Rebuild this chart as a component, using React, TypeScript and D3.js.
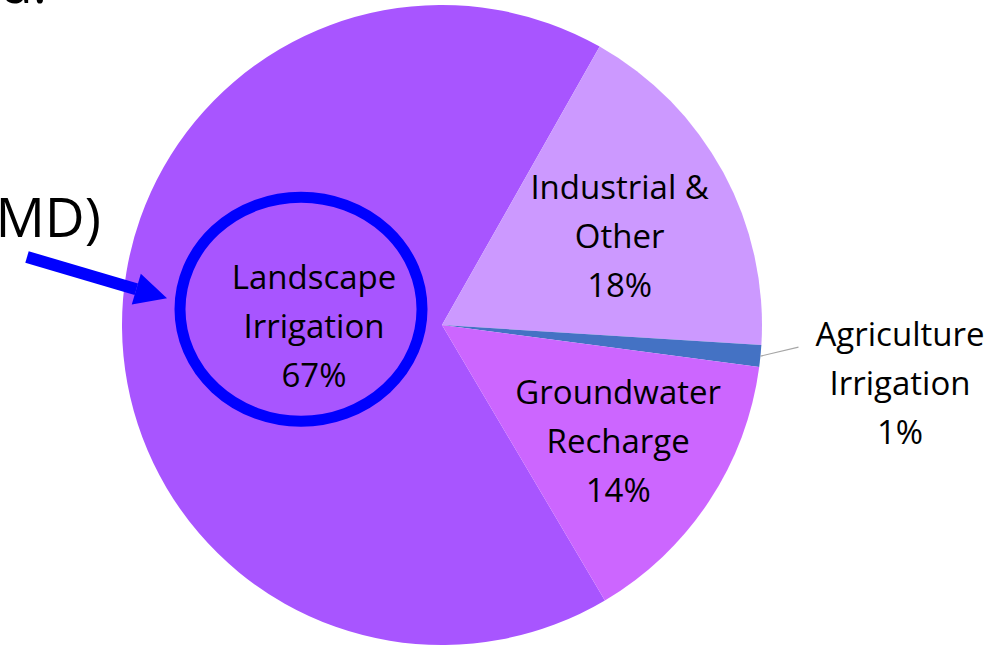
import { useEffect, useRef } from "react";
import * as d3 from "d3";

const categories = ["Landscape Irrigation", "Industrial & Other", "Agriculture Irrigation", "Groundwater Recharge"];
const labelLines = [["Landscape", "Irrigation"], ["Industrial &", "Other"], ["Agriculture", "Irrigation"], ["Groundwater", "Recharge"]];
const shares = [66.7, 17.8, 1.1, 14.4];
const colors = ["#A855FF", "#CC99FF", "#4472C4", "#CC66FF"];

const W = 997;
const H = 647;
const FONT = "'Open Sans', sans-serif";

export default function App() {
  const ref = useRef<SVGSVGElement>(null);

  useEffect(() => {
    document.body.style.margin = "0";
    if (!ref.current) return;
    const svg = d3.select(ref.current);
    svg.selectAll("*").remove();

    const cx = 442;
    const cy = 325;
    const r = 320;
    const start = (149.4 * Math.PI) / 180;

    const data = categories.map((c, i) => ({ name: c, lines: labelLines[i], value: shares[i], color: colors[i] }));
    const pie = d3
      .pie<(typeof data)[number]>()
      .sort(null)
      .value((d) => d.value)
      .startAngle(start)
      .endAngle(start + 2 * Math.PI);
    const arcs = pie(data);
    const arc = d3.arc<d3.PieArcDatum<(typeof data)[number]>>().innerRadius(0).outerRadius(r);

    const g = svg.append("g").attr("transform", `translate(${cx},${cy})`);
    g.selectAll("path")
      .data(arcs)
      .join("path")
      .attr("d", arc)
      .attr("fill", (d) => d.data.color);

    // label radius as fraction of r, and a small angle nudge (deg) — Excel best-fit look
    const labelR = [0.4, 0.62, 1.43, 0.66];
    const labelNudge = [0, 2, 0, 0];
    const fs = 33;
    const lh = 49;

    arcs.forEach((a, i) => {
      const mid = (a.startAngle + a.endAngle) / 2 + (labelNudge[i] * Math.PI) / 180;
      const rr = labelR[i] * r;
      let lx = Math.sin(mid) * rr;
      let ly = -Math.cos(mid) * rr;
      if (i === 2) {
        // outside label with leader line
        const ex = Math.sin(mid) * r;
        const ey = -Math.cos(mid) * r;
        g.append("path")
          .attr("d", `M${ex},${ey}L${ex + 38},${ey - 9}`)
          .attr("stroke", "#A6A6A6")
          .attr("stroke-width", 1.2)
          .attr("fill", "none");
        lx = 458;
        ly = 58;
      }
      const pct = Math.round(a.data.value) + "%";
      const lines = [...a.data.lines, pct];
      const t = g
        .append("text")
        .attr("text-anchor", "middle")
        .attr("font-family", FONT)
        .attr("font-size", fs)
        .attr("fill", "#000");
      lines.forEach((ln, k) => {
        t.append("tspan")
          .attr("x", lx)
          .attr("y", ly + (k - 1) * lh)
          .attr("dy", "0.35em")
          .text(ln);
      });
    });

    // annotation: blue ring around the landscape label
    const la = arcs[0];
    const lmid = (la.startAngle + la.endAngle) / 2;
    const lcx = Math.sin(lmid) * labelR[0] * r - 13;
    const lcy = -Math.cos(lmid) * labelR[0] * r - 17;
    g.append("ellipse")
      .attr("cx", lcx)
      .attr("cy", lcy)
      .attr("rx", 121)
      .attr("ry", 112)
      .attr("fill", "none")
      .attr("stroke", "#0000FF")
      .attr("stroke-width", 11);

    // arrow pointing at the ring
    const x0 = 27 - cx, y0 = 257 - cy;
    const x1 = lcx - 134, y1 = lcy - 11;
    const ang = Math.atan2(y1 - y0, x1 - x0);
    const headLen = 32;
    const headW = 16;
    const bx = x1 - Math.cos(ang) * headLen;
    const by = y1 - Math.sin(ang) * headLen;
    const nx = -Math.sin(ang), ny = Math.cos(ang);
    g.append("line")
      .attr("x1", x0)
      .attr("y1", y0)
      .attr("x2", bx)
      .attr("y2", by)
      .attr("stroke", "#0000FF")
      .attr("stroke-width", 12);
    g.append("path")
      .attr("d", `M${x1},${y1}L${bx + nx * headW},${by + ny * headW}L${bx - nx * headW},${by - ny * headW}Z`)
      .attr("fill", "#0000FF");

    // cut-off slide text (the reference shows these clipped by the frame)
    svg.append("text")
      .attr("x", 101)
      .attr("y", 237)
      .attr("text-anchor", "end")
      .attr("font-family", FONT)
      .attr("font-size", 55)
      .attr("fill", "#000")
      .text("MD)");
    svg.append("text")
      .attr("x", 47)
      .attr("y", 3)
      .attr("text-anchor", "end")
      .attr("font-family", FONT)
      .attr("font-size", 54)
      .attr("fill", "#000")
      .text("d.");
  }, []);

  return <svg ref={ref} width={W} height={H} style={{ display: "block" }} />;
}
